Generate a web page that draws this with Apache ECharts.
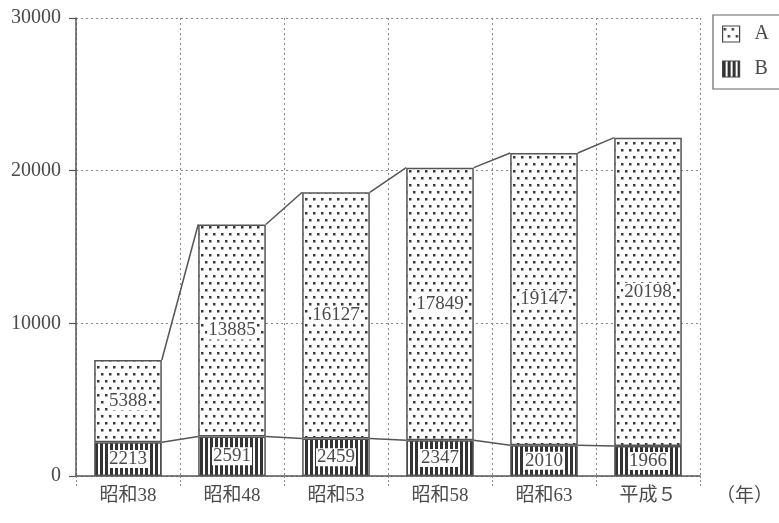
<!DOCTYPE html>
<html>
<head>
<meta charset="utf-8">
<script src="https://cdn.jsdelivr.net/npm/echarts@6/dist/echarts.min.js"></script>
<style>html,body{margin:0;padding:0;background:#fff;}#c{width:779px;height:523px;}</style>
</head>
<body>
<div id="c"></div>
<script>
const categories = ['昭和38', '昭和48', '昭和53', '昭和58', '昭和63', '平成５'];
const seriesA = [5388, 13885, 16127, 17849, 19147, 20198];
const seriesB = [2213, 2591, 2459, 2347, 2010, 1966];
const yTicks = [0, 10000, 20000, 30000];

const FONT = "'Liberation Serif', 'Noto Sans CJK JP', serif";
const TXT = '#4a4a4a';
const EDGE = '#555';
const BAR_RATIO = 0.65;

function dotPattern() {
  const c = document.createElement('canvas');
  c.width = 8; c.height = 14;
  const g = c.getContext('2d');
  g.fillStyle = '#fff'; g.fillRect(0, 0, 8, 14);
  g.fillStyle = '#3a3a3a';
  g.fillRect(1, 2, 2.5, 2.5);
  g.fillRect(5, 9, 2.5, 2.5);
  return c;
}
function stripePattern() {
  const c = document.createElement('canvas');
  c.width = 5; c.height = 5;
  const g = c.getContext('2d');
  g.fillStyle = '#fff'; g.fillRect(0, 0, 5, 5);
  g.fillStyle = '#333';
  g.fillRect(0, 0, 3, 5);
  return c;
}

const totals = seriesA.map((v, i) => v + seriesB[i]);
const connData = [];
for (let i = 0; i < categories.length - 1; i++) {
  connData.push([i, totals[i], totals[i + 1], seriesB[i], seriesB[i + 1]]);
}

const labelStyle = {
  show: true,
  position: 'inside',
  color: TXT,
  fontFamily: FONT,
  fontSize: 19,
  backgroundColor: '#fff',
  padding: [0, 1, -1, 1]
};

const chart = echarts.init(document.getElementById('c'));
chart.setOption({
  animation: false,
  backgroundColor: '#fff',
  grid: { left: 76, right: 79, top: 18, bottom: 47, containLabel: false },
  legend: {
    orient: 'vertical',
    left: 713, top: 15,
    padding: [9, 30, 10, 9],
    borderColor: '#666', borderWidth: 1.2,
    itemWidth: 17, itemHeight: 16, itemGap: 15,
    icon: 'rect',
    data: ['A', 'B'],
    textStyle: { fontFamily: FONT, fontSize: 20, color: TXT, padding: [0, 0, 0, 10] },
    itemStyle: { borderColor: '#444', borderWidth: 1.2 }
  },
  xAxis: {
    type: 'category',
    data: categories,
    boundaryGap: true,
    name: '（年）',
    nameLocation: 'end',
    nameGap: 16,
    nameTextStyle: { fontFamily: FONT, fontSize: 19, color: TXT, align: 'left', verticalAlign: 'top', padding: [12, 0, 0, 0] },
    axisLine: { lineStyle: { color: '#555', width: 1.5 } },
    axisTick: { show: true, length: 12, lineStyle: { color: '#888', type: [2, 2] } },
    axisLabel: { margin: 11, fontFamily: FONT, fontSize: 19, color: TXT },
    splitLine: { show: true, lineStyle: { color: '#888', type: [2, 3], width: 1 } }
  },
  yAxis: {
    type: 'value',
    min: 0, max: 30000, interval: 10000,
    axisLine: { show: true, lineStyle: { color: '#555', width: 1.5 } },
    axisTick: { show: true, length: 7, lineStyle: { color: '#555', width: 1.2 } },
    axisLabel: { margin: 15, fontFamily: FONT, fontSize: 20, color: TXT,
      customValues: yTicks, formatter: function (v) { return String(v); } },
    splitLine: { show: true, lineStyle: { color: '#888', type: [2, 3], width: 1 } }
  },
  series: [
    {
      name: 'B', type: 'bar', stack: 's', barWidth: (BAR_RATIO * 100) + '%',
      data: seriesB,
      itemStyle: { color: { image: stripePattern(), repeat: 'repeat' }, borderColor: EDGE, borderWidth: 1.5 },
      label: labelStyle
    },
    {
      name: 'A', type: 'bar', stack: 's', barWidth: (BAR_RATIO * 100) + '%',
      data: seriesA,
      itemStyle: { color: { image: dotPattern(), repeat: 'repeat' }, borderColor: EDGE, borderWidth: 1.5 },
      label: labelStyle
    },
    {
      type: 'custom',
      silent: true,
      z: 5,
      data: connData,
      encode: { x: 0, y: 1 },
      renderItem: function (params, api) {
        const i = api.value(0);
        const half = api.size([1, 0])[0] * BAR_RATIO / 2;
        const a1 = api.coord([i, api.value(1)]);
        const a2 = api.coord([i + 1, api.value(2)]);
        const b1 = api.coord([i, api.value(3)]);
        const b2 = api.coord([i + 1, api.value(4)]);
        const st = { stroke: '#555', lineWidth: 1.5 };
        return {
          type: 'group',
          children: [
            { type: 'line', shape: { x1: a1[0] + half, y1: a1[1], x2: a2[0] - half, y2: a2[1] }, style: st },
            { type: 'line', shape: { x1: b1[0] + half, y1: b1[1], x2: b2[0] - half, y2: b2[1] }, style: st }
          ]
        };
      }
    }
  ]
});
</script>
</body>
</html>
